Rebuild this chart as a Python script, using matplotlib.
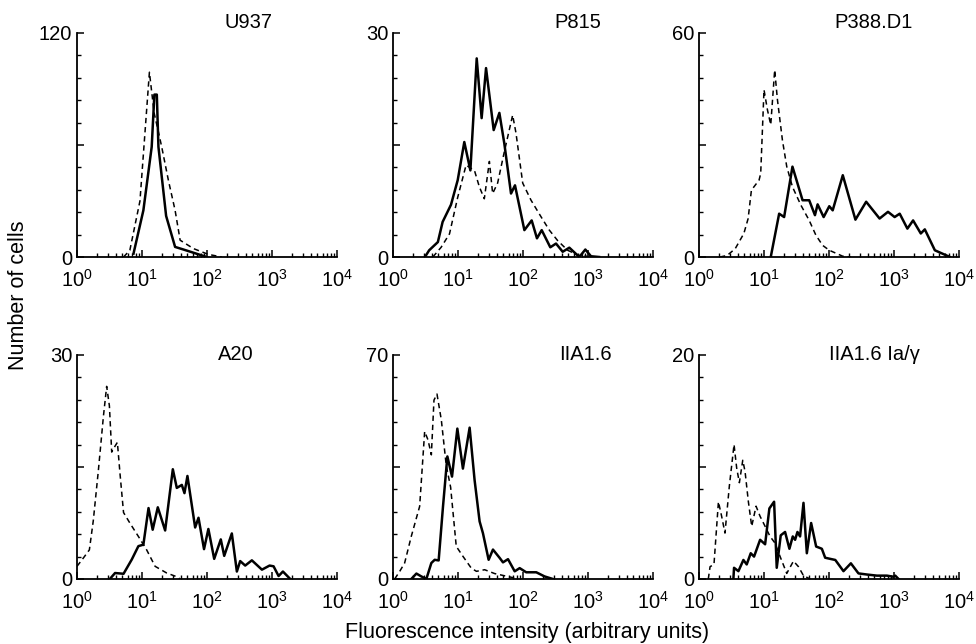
import numpy as np
import matplotlib
matplotlib.use("Agg")
from matplotlib import pyplot as plt
from matplotlib.ticker import LogLocator, MultipleLocator, NullFormatter, FixedLocator

plt.rcParams["font.family"] = ["Liberation Sans", "DejaVu Sans"]
plt.rcParams["mathtext.fontset"] = "custom"
plt.rcParams["mathtext.rm"] = "Liberation Sans"

# U937
u937_solid_x = [7.4, 10.5, 14.1, 15.5, 16.9, 17.9, 23.5, 32.3, 43.5, 99]
u937_solid_y = [1.8, 25, 59, 87, 87, 59, 22, 5.4, 4, 0]
u937_dash_x = [5.2, 6.5, 9.3, 13.0, 15.4, 17.9, 20.1, 25.5, 32.3, 38.6, 61.9, 105, 169]
u937_dash_y = [0, 3.6, 30, 99, 77, 67, 59, 41, 25, 9, 4.5, 1.4, 0]

# P815
p815_solid_x = [3.1, 3.6, 4.9, 5.8, 7.8, 9.9, 12.5, 15.5, 19.4, 23.1, 27.0, 35.4, 43.3,
                51.6, 65.4, 75.3, 105, 136, 164, 194, 263, 322, 408, 516, 735, 910,
                1112, 1480]
p815_solid_y = [0, 0.9, 2.0, 4.7, 7.0, 10.3, 15.4, 11.6, 26.6, 18.6, 25.3, 17.0, 19.3,
                15.2, 8.5, 9.6, 3.6, 4.9, 2.5, 3.6, 1.3, 1.8, 0.7, 1.25, 0, 1.0, 0.1, 0]
p815_dash_x = [4.1, 5.5, 7.4, 9.9, 13.3, 17.9, 21.3, 25.4, 30.4, 34.1, 40.7, 51.6, 69.3,
               78, 99, 133, 189, 254, 341, 486, 735, 1255]
p815_dash_y = [0, 1.3, 3.1, 8.0, 12.3, 11.6, 9.4, 7.8, 12.8, 8.5, 9.9, 14.1, 19.0,
               16.6, 9.9, 7.6, 5.4, 3.6, 2.2, 0.9, 0.2, 0]

# P388.D1
p388_solid_x = [12.7, 17.1, 20.4, 27.4, 39.2, 49.6, 60.8, 66.8, 82.7, 101, 114, 163,
                255, 373, 600, 808, 1023, 1224, 1607, 1967, 2583, 2978, 4253, 7260]
p388_solid_y = [0, 11.6, 10.7, 24.2, 15.2, 15.2, 11.2, 14.1, 10.7, 13.6, 12.5, 21.9,
                10.0, 14.8, 10.3, 12.1, 10.7, 11.6, 7.6, 9.8, 6.3, 7.4, 1.8, 0]
p388_dash_x = [2.1, 2.7, 3.6, 4.9, 5.7, 6.4, 8.4, 8.9, 10, 11.3, 12.7, 14.6, 16.1, 19.2,
               22.4, 27.4, 36.9, 49.6, 63, 80, 101, 163, 219]
p388_dash_y = [0, 0.4, 2.2, 6.3, 10.3, 17.9, 20.6, 22.4, 44.8, 39.4, 35.4, 50.1, 42.1,
               31.3, 24.2, 18.8, 13.9, 9.8, 5.8, 3.1, 1.8, 0.2, 0]

# A20
a20_solid_x = [3.2, 3.85, 5.2, 6.95, 8.8, 10.5, 12.6, 14.6, 17.5, 22.7, 29.8, 34.3, 41,
               45, 50, 65.7, 74, 90, 105, 129, 163, 184, 241, 288, 324, 387, 490, 700,
               918, 1057, 1263, 1472, 1909]
a20_solid_y = [0, 0.8, 0.7, 2.6, 4.4, 4.6, 9.5, 6.6, 9.6, 6.5, 14.7, 12.2, 12.6, 11.5,
               13.8, 6.9, 8.2, 4.0, 6.7, 2.7, 5.3, 3.1, 6.1, 1.0, 2.4, 1.8, 2.5, 1.25,
               1.8, 1.7, 0.4, 1.0, 0]
a20_dash_x = [1.0, 1.25, 1.55, 1.78, 2.13, 2.55, 2.86, 3.15, 3.42, 3.85, 4.18, 4.6, 5.2,
              6.5, 8.8, 11.8, 15.9, 24, 34.3, 38.6]
a20_dash_y = [1.7, 2.8, 3.9, 7.8, 14.5, 21.8, 25.8, 23.2, 17.0, 17.8, 18.3, 14.0, 8.9,
              7.5, 5.7, 3.9, 1.7, 0.8, 0.3, 0]

# IIA1.6
iia_solid_x = [1.91, 2.29, 2.73, 3.26, 3.89, 4.38, 5.04, 5.88, 6.86, 8.09, 9.77, 11.9,
               15.1, 18.0, 21.5, 24.2, 29.6, 34.5, 43.7, 49.2, 58.8, 74.5, 88.9, 112,
               160, 215, 289]
iia_solid_y = [0, 1.7, 0.8, 0, 5.0, 6.0, 5.8, 22.7, 38.3, 32.0, 47.0, 34.5, 47.3, 30.9,
               18.0, 14.3, 6.0, 9.2, 6.6, 5.2, 6.2, 2.4, 3.4, 2.1, 2.1, 0.8, 0]
iia_dash_x = [1.06, 1.27, 1.51, 1.91, 2.57, 3.07, 3.45, 3.89, 4.27, 4.75, 5.54, 6.6, 7.7,
              9.4, 11.9, 16.0, 19.2, 25.7, 36.6, 52.2, 74.5, 83.7]
iia_dash_y = [0, 2.4, 5.0, 13.3, 22.7, 46.1, 43.5, 38.8, 55.9, 57.8, 49.7, 35.4, 28.7,
              10.2, 7.1, 3.4, 2.4, 2.9, 1.7, 1.0, 0.3, 0]

# IIA1.6 Ia/gamma
iag_solid_x = [3.38, 3.46, 4.04, 4.82, 5.42, 6.25, 7.03, 8.71, 10.4, 12.1, 14.3, 15.7,
               18.1, 21.1, 24.6, 27.7, 30.1, 32.7, 35.9, 40.5, 45.6, 53.1, 63.4, 77.6,
               87.3, 104, 125, 167, 217, 284, 383, 546, 778, 986, 1045, 1175]
iag_solid_y = [0, 1.0, 0.7, 1.7, 1.3, 2.3, 2.0, 3.5, 3.1, 6.3, 6.9, 1.0, 3.9, 4.2, 2.7,
               3.8, 3.5, 4.2, 3.8, 6.8, 2.3, 5.0, 2.9, 2.7, 1.9, 1.8, 1.7, 0.7, 1.4, 0.5,
               0.4, 0.3, 0.3, 0.2, 0.3, 0]
iag_dash_x = [1.39, 1.48, 1.70, 1.99, 2.23, 2.51, 2.93, 3.46, 3.8, 4.18, 4.71, 5.11, 5.75,
              6.47, 7.55, 8.7, 10.4, 12.4, 14.8, 17.7, 22.4, 28.4, 33.9, 40.5, 51.3]
iag_dash_y = [0, 1.1, 1.3, 6.9, 5.6, 4.1, 8.3, 12.0, 9.9, 8.6, 10.6, 9.6, 6.9, 4.7, 6.5,
              5.6, 4.7, 3.8, 3.2, 2.0, 0.5, 1.6, 1.1, 0.3, 0]

names = ["U937", "P815", "P388.D1", "A20", "IIA1.6", "IIA1.6 Ia/\u03b3"]
ymax = [120, 30, 60, 30, 70, 20]
solids = [(u937_solid_x, u937_solid_y), (p815_solid_x, p815_solid_y),
          (p388_solid_x, p388_solid_y), (a20_solid_x, a20_solid_y),
          (iia_solid_x, iia_solid_y), (iag_solid_x, iag_solid_y)]
dashes = [(u937_dash_x, u937_dash_y), (p815_dash_x, p815_dash_y),
          (p388_dash_x, p388_dash_y), (a20_dash_x, a20_dash_y),
          (iia_dash_x, iia_dash_y), (iag_dash_x, iag_dash_y)]

W, H = 976, 644
fig = plt.figure(figsize=(W / 100, H / 100), dpi=100)

lefts = [77, 393, 699]
tops = [33, 355]
aw, ah = 260, 224
title_pos = [(248, 23), (578, 23), (874, 23), (236, 355), (585, 355), (874, 355)]

for i in range(6):
    r, c = divmod(i, 3)
    ax = fig.add_axes([lefts[c] / W, 1 - (tops[r] + ah) / H, aw / W, ah / H])
    ax.plot(dashes[i][0], dashes[i][1], color="black", lw=1.1, ls=(0, (3.5, 2.5)))
    ax.plot(solids[i][0], solids[i][1], color="black", lw=1.8)
    ax.set_xscale("log")
    ax.set_xlim(1, 1e4)
    ax.set_ylim(0, ymax[i])
    ax.spines["top"].set_visible(False)
    ax.spines["right"].set_visible(False)
    ax.spines["left"].set_linewidth(1.3)
    ax.spines["bottom"].set_linewidth(1.3)
    ax.xaxis.set_major_locator(LogLocator(base=10, numticks=10))
    ax.xaxis.set_minor_locator(LogLocator(base=10, subs=np.arange(2, 10), numticks=10))
    ax.xaxis.set_minor_formatter(NullFormatter())
    ax.yaxis.set_major_locator(FixedLocator([0, ymax[i] / 2, ymax[i]]))
    ax.yaxis.set_minor_locator(MultipleLocator(ymax[i] / 10))
    ax.set_yticklabels(["0", "", str(ymax[i])])
    ax.tick_params(axis="both", which="major", direction="in", length=5, width=1.1,
                   labelsize=14.5)
    ax.tick_params(axis="both", which="minor", direction="in", length=3, width=1.0)
    ax.tick_params(axis="y", which="major", pad=3.5)
    ax.tick_params(axis="x", which="major", pad=8.5)
    for lab in ax.get_yticklabels():
        lab.set_verticalalignment("center_baseline")
    fig.text(title_pos[i][0] / W, 1 - title_pos[i][1] / H, names[i], fontsize=14.5,
             ha="center", va="center")

fig.text(19 / W, 1 - 295 / H, "Number of cells", rotation=90, fontsize=15.5,
         ha="center", va="center")
fig.text(527 / W, 1 - 638 / H, "Fluorescence intensity (arbitrary units)", fontsize=15.5,
         ha="center", va="baseline")

fig.savefig("out.png", dpi=100)
